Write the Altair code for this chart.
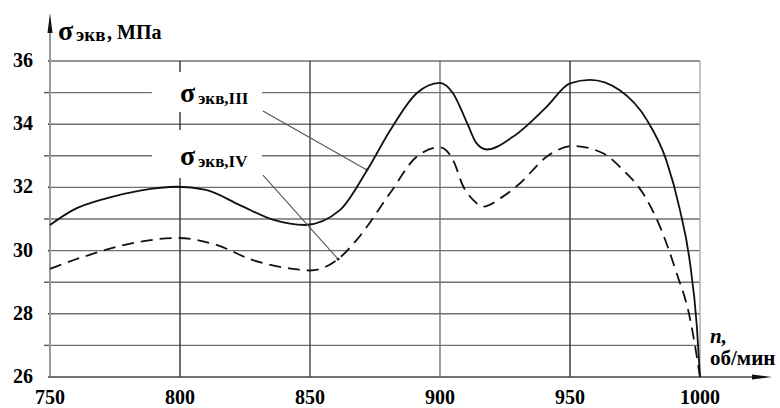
import altair as alt
import pandas as pd

# ---------------- data ----------------
n_iii = [750, 758.8, 772, 784.6, 799, 810, 823, 836, 848, 861.5, 872, 880.8, 891, 900, 905,
         910.4, 914, 918, 928, 941, 950, 957.7, 969, 979.6, 987, 992.3, 996, 998.8, 1000]
s_iii = [30.81, 31.28, 31.66, 31.90, 32.02, 31.92, 31.44, 30.97, 30.81, 31.28, 32.55, 33.80, 34.98, 35.31, 34.98,
         34.04, 33.40, 33.20, 33.60, 34.55, 35.29, 35.40, 35.08, 34.13, 32.87, 31.28, 29.70, 27.59, 26.0]

n_iv = [750, 762.7, 784.6, 798.8, 814, 828, 843.5, 850, 860.8, 868, 880.8, 891, 900, 905, 909,
        912.8, 916.5, 924, 930.8, 941, 951, 962.7, 970.4, 978, 984.6, 991, 996, 999, 1000]
s_iv = [29.42, 29.80, 30.28, 30.40, 30.18, 29.70, 29.42, 29.37, 29.73, 30.34, 31.82, 32.97, 33.27, 32.87, 32.02,
        31.60, 31.39, 31.70, 32.13, 32.97, 33.31, 33.08, 32.55, 31.82, 30.76, 29.29, 27.91, 26.53, 26.0]

x_ticks = [750, 800, 850, 900, 950, 1000]
y_ticks = [26, 28, 30, 32, 34, 36]
h_grid = [27, 28, 29, 30, 31, 32, 33, 34, 35, 36]
v_grid = [800, 850, 900, 950, 1000]

label_subs = ["экв,III", "экв,IV"]
label_n = [800, 800]
label_s = [34.70, 32.71]
# leader lines: from label to curve point
lead_n0 = [831.9, 831.9]
lead_s0 = [34.42, 32.39]
lead_n1 = [871.9, 860.8]
lead_s1 = [32.55, 29.73]
# label background boxes
box_n0 = [789.2, 789.2]
box_n1 = [831.5, 831.5]
box_s0 = [35.65, 33.82]
box_s1 = [34.39, 32.30]

# ---------------- layout ----------------
FONT = "Liberation Serif"
W, H = 725, 365
PX_PER_N = 2.6
PX_PER_S = 31.6
xs = alt.Scale(domain=[750, 750 + W / PX_PER_N], nice=False, zero=False)
ys = alt.Scale(domain=[26, 26 + H / PX_PER_S], nice=False, zero=False)

one = pd.DataFrame({"a": [0]})

def X(f):
    return alt.X(f, scale=xs, axis=None)

def Y(f):
    return alt.Y(f, scale=ys, axis=None)

def txt(size, **kw):
    return dict(font=FONT, fontSize=size, fontWeight="bold", color="black", **kw)

hg = pd.DataFrame({"g": h_grid, "x0": [750] * len(h_grid), "x1": [1000] * len(h_grid)})
grid_h = alt.Chart(hg).mark_rule(color="#6f6f6f", strokeWidth=1.4).encode(
    x=X("x0:Q"), x2="x1:Q", y=Y("g:Q"))

odd = pd.DataFrame({"g": [g for g in h_grid if g % 2 == 1]})
even = pd.DataFrame({"g": y_ticks})
stub_odd = alt.Chart(odd).mark_rule(color="#555", strokeWidth=1.4).encode(
    x=alt.value(-6), x2=alt.value(0), y=Y("g:Q"))
stub_even = alt.Chart(even).mark_rule(color="#333", strokeWidth=1.6).encode(
    x=alt.value(-2), x2=alt.value(0), y=Y("g:Q"))

vg = pd.DataFrame({"v": v_grid, "y0": [26] * len(v_grid), "y1": [36] * len(v_grid),
                   "c": ["#333", "#444", "#777", "#333", "#aaa"]})
grid_v = alt.Chart(vg).mark_rule(strokeWidth=1.4).encode(
    x=X("v:Q"), y=Y("y0:Q"), y2="y1:Q", color=alt.Color("c:N", scale=None))

boxes = pd.DataFrame({"n0": box_n0, "n1": box_n1, "s0": box_s0, "s1": box_s1})
box_layer = alt.Chart(boxes).mark_rect(color="white").encode(
    x=X("n0:Q"), x2="n1:Q", y=Y("s0:Q"), y2="s1:Q")

df3 = pd.DataFrame({"n": n_iii, "s": s_iii})
df4 = pd.DataFrame({"n": n_iv, "s": s_iv})
line3 = alt.Chart(df3).mark_line(color="#111", strokeWidth=1.8, interpolate="monotone").encode(
    x=X("n:Q"), y=Y("s:Q"))
line4 = alt.Chart(df4).mark_line(color="#111", strokeWidth=1.8, strokeDash=[12, 7],
                                 interpolate="monotone").encode(x=X("n:Q"), y=Y("s:Q"))

leads = pd.DataFrame({"n0": lead_n0, "s0": lead_s0, "n1": lead_n1, "s1": lead_s1})
lead_layer = alt.Chart(leads).mark_rule(color="#555", strokeWidth=1.1).encode(
    x=X("n0:Q"), y=Y("s0:Q"), x2="n1:Q", y2="s1:Q")
lead_dots = alt.Chart(leads).mark_point(filled=True, color="#222", size=8, opacity=1).encode(
    x=X("n1:Q"), y=Y("s1:Q"))

labs = pd.DataFrame({"n": label_n, "s": label_s, "sub": label_subs})
lab_sigma = alt.Chart(labs).mark_text(align="left", baseline="alphabetic", **txt(28)).encode(
    x=X("n:Q"), y=Y("s:Q"), text=alt.value("σ"))
lab_sub = alt.Chart(labs).mark_text(align="left", baseline="alphabetic", dx=18, dy=2,
                                    **txt(17)).encode(x=X("n:Q"), y=Y("s:Q"), text="sub:N")

# tick labels
xt = pd.DataFrame({"n": x_ticks})
yt = pd.DataFrame({"s": y_ticks})
x_labels = alt.Chart(xt).mark_text(align="center", baseline="alphabetic", **txt(20)).encode(
    x=X("n:Q"), y=alt.value(H + 27), text=alt.Text("n:Q", format="d"))
y_labels = alt.Chart(yt).mark_text(align="right", baseline="middle", **txt(20)).encode(
    x=alt.value(-17), y=Y("s:Q"), text=alt.Text("s:Q", format="d"))

# axis titles
t_sigma = alt.Chart(one).mark_text(align="left", baseline="alphabetic", **txt(28)).encode(
    x=alt.value(8), y=alt.value(28), text=alt.value("σ"))
t_sub = alt.Chart(one).mark_text(align="left", baseline="alphabetic", **txt(19)).encode(
    x=alt.value(26), y=alt.value(29), text=alt.value("экв"))
t_unit = alt.Chart(one).mark_text(align="left", baseline="alphabetic", **txt(20)).encode(
    x=alt.value(57), y=alt.value(27), text=alt.value(", МПа"))
t_n = alt.Chart(one).mark_text(align="left", baseline="alphabetic", fontStyle="italic",
                               **txt(21)).encode(
    x=alt.value(660), y=alt.value(331), text=alt.value("n,"))
t_unit_x = alt.Chart(one).mark_text(align="left", baseline="alphabetic", **txt(21)).encode(
    x=alt.value(660), y=alt.value(353), text=alt.value("об/мин"))

# axis lines and arrows
y_line = alt.Chart(one).mark_rule(color="#999", strokeWidth=2).encode(
    x=alt.value(0), y=alt.value(10), y2=alt.value(H))
x_line = alt.Chart(one).mark_rule(color="#444", strokeWidth=1.6).encode(
    x=alt.value(0), x2=alt.value(712), y=alt.value(H))
arrow_y = alt.Chart(one).mark_point(shape="M0,-1L0.25,1L-0.25,1Z", filled=True, color="#111",
                                    size=400, opacity=1).encode(x=alt.value(0), y=alt.value(11))
arrow_x = alt.Chart(one).mark_point(shape="M1,0L-1,0.25L-1,-0.25Z", filled=True, color="#111",
                                    size=400, opacity=1).encode(x=alt.value(712), y=alt.value(H))

chart = alt.layer(
    grid_h, stub_odd, stub_even, grid_v, box_layer, y_line, x_line,
    line3, line4, lead_layer, lead_dots, lab_sigma, lab_sub,
    x_labels, y_labels,
    t_sigma, t_sub, t_unit, t_n, t_unit_x, arrow_y, arrow_x
).properties(
    width=W, height=H,
    autosize=alt.AutoSizeParams(type="none"),
    padding={"left": 50, "top": 12, "right": 5, "bottom": 31},
    background="white",
).configure(font=FONT).configure_text(font=FONT).configure_view(strokeWidth=0)

chart.save("out.html", embed_options={"renderer": "svg", "actions": False})
